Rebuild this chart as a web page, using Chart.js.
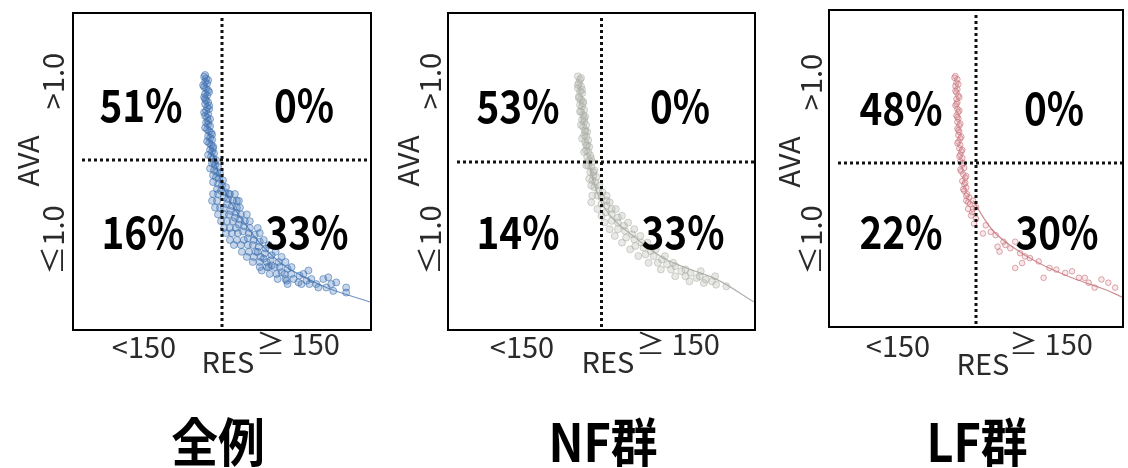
<!DOCTYPE html>
<html>
<head>
<meta charset="utf-8">
<script src="https://cdn.jsdelivr.net/npm/chart.js@4"></script>
<style>
  body { margin: 0; background: #fff; }
  #wrap { position: relative; width: 1128px; height: 468px; overflow: hidden; background: #fff; }
  canvas { position: absolute; top: 0; }
  .t { position: absolute; transform: translate(-50%, -50%); white-space: nowrap; color: #1a1a1a;
       font-family: "Noto Sans CJK JP", "Noto Sans", sans-serif; line-height: 1; }
  .pct { font-size: 45px; font-weight: 700; color: #000; transform: translate(-50%, -50%) scaleX(0.86); }
  .lab { font-size: 29px; font-weight: 400; color: #2a2a2a; }
  .rot { transform: translate(-50%, -50%) rotate(-90deg); }
  .ttl { font-size: 52px; font-weight: 700; color: #000; transform: translate(-50%, -50%) scaleX(0.9); }
</style>
</head>
<body>
<div id="wrap">
  <canvas id="c0" width="376" height="400" style="left:0px"></canvas>
  <canvas id="c1" width="384" height="400" style="left:376px"></canvas>
  <canvas id="c2" width="368" height="400" style="left:760px"></canvas>
</div>
<script>
// group names and quadrant shares (upper-left, upper-right, lower-left, lower-right)
const titles = ['全例', 'NF群', 'LF群'];
const pctLabels = [
    ['51%', '0%', '16%', '33%'],
    ['53%', '0%', '14%', '33%'],
    ['48%', '0%', '22%', '30%']
];
const xLabels = ['<150', '≥ 150'];
const yLabels = ['>1.0', '≤1.0'];
const resCut = 150;
const avaCut = 1.0;
const yMaxes = [1.865, 1.887, 1.933];

// RES, AVA pairs
const allPts = [
    [132,1.49],[134,1.48],[133,1.46],[135,1.45],[132,1.43],[134,1.42],[136,1.41],[133,1.39],[135,1.38],[132,1.37],
    [134,1.35],[136,1.34],[133,1.33],[135,1.31],[137,1.30],[134,1.29],[136,1.27],[133,1.26],[135,1.25],[138,1.24],
    [134,1.22],[136,1.21],[138,1.20],[135,1.18],[137,1.17],[139,1.16],[136,1.14],[138,1.13],[140,1.12],[137,1.10],
    [139,1.09],[141,1.08],[138,1.06],[140,1.05],[142,1.04],[139,1.02],[141,1.01],[144,1.00],[140,0.98],[143,0.97],
    [146,0.96],[142,0.94],[145,0.93],[148,0.92],[144,0.90],[147,0.89],[151,0.88],[146,0.86],[150,0.85],[154,0.84],
    [149,0.82],[153,0.81],[157,0.80],[152,0.78],[156,0.77],[161,0.76],[155,0.74],[160,0.73],[165,0.72],[159,0.70],
    [164,0.69],[169,0.68],[163,0.66],[168,0.65],[173,0.64],[167,0.62],[172,0.61],[178,0.60],[171,0.58],[177,0.57],
    [183,0.56],[176,0.54],[182,0.53],[188,0.52],[181,0.50],[187,0.49],[194,0.48],[186,0.46],[193,0.45],[200,0.44],
    [192,0.42],[199,0.41],[207,0.40],[200,0.38],[208,0.37],[216,0.36],[210,0.34],[220,0.33],[228,0.32],[222,0.30],
    [235,0.29],[245,0.27],[255,0.25],[262,0.23],[275,0.22],
    [190,0.35],[197,0.37],[215,0.29],[237,0.35],[257,0.31],[275,0.25],[247,0.25],[227,0.28],[265,0.28],
    [133,1.50],[136,1.47],[131,1.44],[137,1.40],[133,1.36],[137,1.32],[132,1.28],[136,1.23],[133,1.19],[140,1.15],
    [135,1.11],[141,1.07],[136,1.03],[142,0.99],[138,0.95],[141,0.91],[141,0.87],[145,0.83],
    [141,0.80],[146,0.80],[158,0.80],[163,0.80],[140,0.76],[145,0.76],[165,0.76],[167,0.76],
    [143,0.72],[148,0.72],[152,0.72],[168,0.72],[146,0.68],[152,0.68],[157,0.68],[175,0.68],
    [149,0.64],[155,0.64],[161,0.64],[178,0.64],[152,0.60],[158,0.60],[164,0.60],[186,0.60],
    [154,0.57],[160,0.57],[166,0.57],[188,0.57],[158,0.53],[165,0.53],[172,0.53],[192,0.53],
    [162,0.50],[169,0.50],[176,0.50],[197,0.50],[170,0.46],[177,0.46],[184,0.46],[204,0.46],
    [175,0.43],[182,0.43],[189,0.43],[210,0.43],[181,0.40],[188,0.40],[195,0.40],[214,0.40],
    [188,0.37],[195,0.37],[203,0.37],[220,0.37],[198,0.33],[205,0.33],[213,0.33],[232,0.33],
    [206,0.30],[214,0.30],[240,0.30],[252,0.30],[216,0.27],[230,0.27],[238,0.27],[260,0.27]
];
const nfPts = [
    [127,1.51],[129,1.49],[128,1.47],[130,1.45],[127,1.44],[129,1.42],[131,1.41],[128,1.39],[130,1.37],[132,1.36],
    [129,1.34],[131,1.33],[133,1.31],[130,1.30],[132,1.28],[134,1.27],[131,1.25],[133,1.24],[135,1.22],[132,1.21],
    [134,1.19],[136,1.18],[133,1.16],[135,1.15],[137,1.13],[134,1.12],[136,1.10],[138,1.09],[135,1.07],[137,1.06],
    [139,1.04],[136,1.03],[138,1.01],[141,1.00],[137,0.98],[140,0.97],[143,0.95],[139,0.94],[142,0.92],[145,0.91],
    [141,0.89],[144,0.88],[148,0.86],[143,0.85],[147,0.83],[151,0.82],[146,0.80],[150,0.79],[155,0.77],[150,0.75],
    [155,0.74],[160,0.72],[154,0.70],[160,0.69],[166,0.67],[160,0.65],[166,0.64],[172,0.62],[166,0.60],[173,0.59],
    [180,0.57],[174,0.55],[182,0.54],[189,0.52],[183,0.50],[191,0.49],[198,0.47],[193,0.45],[201,0.44],[209,0.42],
    [205,0.40],[214,0.39],[222,0.38],[218,0.36],[228,0.35],[237,0.34],[232,0.32],[243,0.31],[252,0.30],[250,0.28],
    [262,0.27],[272,0.26],[247,0.35],[261,0.32],
    [130,1.50],[127,1.46],[131,1.43],[128,1.38],[132,1.35],[129,1.30],[133,1.26],[130,1.22],[134,1.18],[131,1.14],
    [135,1.10],[133,1.06],[140,1.02],[135,0.98],[142,0.94],[138,0.90],[140,0.86],
    [141,0.80],[155,0.80],[140,0.76],[158,0.76],[146,0.72],[164,0.72],[150,0.68],[170,0.68],
    [153,0.64],[176,0.64],[158,0.60],[182,0.60],[163,0.56],[188,0.56],[170,0.52],[195,0.52],
    [178,0.48],[203,0.48],[186,0.44],[212,0.44],[196,0.40],[220,0.40],[208,0.36],[232,0.36],
    [222,0.32],[246,0.32],[236,0.29],[258,0.29]
];
const lfPts = [
    [129,1.53],[131,1.51],[130,1.49],[129,1.47],[131,1.45],[130,1.43],[132,1.41],[130,1.39],[131,1.37],[129,1.35],
    [131,1.33],[132,1.31],[130,1.29],[132,1.27],[131,1.25],[133,1.23],[131,1.21],[133,1.19],[132,1.17],[134,1.15],
    [132,1.13],[134,1.11],[133,1.09],[135,1.07],[134,1.05],[136,1.03],[134,1.01],[136,0.99],[138,0.97],[135,0.95],
    [137,0.93],[139,0.91],[136,0.89],[138,0.87],[140,0.85],[138,0.83],[141,0.81],[143,0.79],[140,0.77],[144,0.75],
    [147,0.77],[142,0.72],[146,0.70],[150,0.73],
    [157,0.57],[172,0.49],[174,0.46],[190,0.36],[197,0.39],[214,0.40],[219,0.30],[241,0.33],[248,0.34],[261,0.30],
    [271,0.24],[278,0.29],[285,0.27],[190,0.52],[180,0.50],
    [160,0.62],[165,0.58],[170,0.56],[178,0.52],[185,0.48],[195,0.45],[200,0.43],[205,0.42],[225,0.36],[232,0.35],
    [255,0.30],[265,0.27],[292,0.24],
    [128,1.52],[132,1.48],[129,1.44],[133,1.40],[130,1.36],[133,1.32],[131,1.28],[134,1.24],[132,1.20],[135,1.16],
    [131,1.12],[136,1.08],[133,1.04],[137,1.00],[134,0.96],[140,0.92],[139,0.88],[137,0.84],[140,0.80],[142,0.76],
    [147,0.72],[145,0.68],[150,0.66],[148,0.63]
];

// fitted curves
const allFit = [[140,1.05],[150,0.86],[160,0.74],[175,0.61],[190,0.50],[210,0.39],[230,0.32],[255,0.25],[280,0.20],[299,0.165]];
const nfFit = [[137,1.01],[147,0.80],[160,0.67],[183,0.55],[210,0.43],[237,0.36],[263,0.30],[299,0.167]];
const lfFit = [[147,0.77],[167,0.59],[187,0.49],[214,0.39],[248,0.30],[281,0.23],[300,0.18]];

const panels = [
    { id: 'c0', pts: allPts, fit: allFit, pad: { left: 73, top: 13, right: 3, bottom: 70 },
      dot: 'rgba(55,105,170,0.55)', fill: 'rgba(70,120,185,0.3)', line: '#7396c6', r: 3.5 },
    { id: 'c1', pts: nfPts, fit: nfFit, pad: { left: 72, top: 13, right: 2, bottom: 70 },
      dot: 'rgba(160,164,154,0.45)', fill: 'rgba(180,183,173,0.3)', line: '#b0b2ab', r: 3.5 },
    { id: 'c2', pts: lfPts, fit: lfFit, pad: { left: 69, top: 10, right: 0, bottom: 73 },
      dot: 'rgba(195,100,110,0.55)', fill: 'rgba(220,150,160,0.22)', line: '#cc9096', r: 2.8 }
];

const quadrants = {
    id: 'quadrants',
    afterDatasetsDraw(chart) {
        const { ctx, chartArea: a, scales } = chart;
        const xc = scales.x.getPixelForValue(resCut);
        const yc = scales.y.getPixelForValue(avaCut);
        ctx.save();
        ctx.strokeStyle = '#111';
        ctx.lineWidth = 3;
        ctx.setLineDash([3, 3]);
        ctx.beginPath();
        ctx.moveTo(xc, a.top + 5);
        ctx.lineTo(xc, a.bottom);
        ctx.moveTo(a.left + 9, yc);
        ctx.lineTo(a.right, yc);
        ctx.stroke();
        ctx.setLineDash([]);
        ctx.lineWidth = 2;
        ctx.strokeStyle = '#000';
        ctx.strokeRect(a.left, a.top, a.right - a.left, a.bottom - a.top);
        ctx.restore();
    }
};

panels.forEach(function(p, i) {
    const ctx = document.getElementById(p.id).getContext('2d');
    new Chart(ctx, {
        type: 'scatter',
        data: {
            datasets: [{
                data: p.pts.map(d => ({ x: d[0], y: d[1] })),
                borderColor: p.dot,
                backgroundColor: p.fill,
                borderWidth: 1,
                pointRadius: p.r
            }, {
                type: 'line',
                data: p.fit.map(d => ({ x: d[0], y: d[1] })),
                borderColor: p.line,
                borderWidth: 1.2,
                pointRadius: 0,
                tension: 0.4,
                fill: false
            }]
        },
        options: {
            responsive: false,
            animation: false,
            layout: { padding: p.pad },
            plugins: { legend: { display: false }, tooltip: { enabled: false } },
            scales: {
                x: { type: 'linear', min: 0, max: 300, display: false },
                y: { min: 0, max: yMaxes[i], display: false }
            }
        },
        plugins: [quadrants]
    });
});

// text placement (page pixels)
const wrap = document.getElementById('wrap');
function addText(txt, x, y, cls) {
    const d = document.createElement('div');
    d.className = 't ' + cls;
    d.textContent = txt;
    d.style.left = x + 'px';
    d.style.top = y + 'px';
    wrap.appendChild(d);
}
const pctPos = [
    [[141,102],[304,102],[143,229],[307,229]],
    [[518,103],[680,103],[518,229],[683,229]],
    [[901,105],[1054,105],[901,229],[1057,229]]
];
const labPos = [
    { ava: [26,161], yHi: [51,81], yLo: [51,240], xLo: [144,345], res: [228,360], xHi: [298,342] },
    { ava: [406,161], yHi: [428,81], yLo: [428,240], xLo: [522,345], res: [608,360], xHi: [678,342] },
    { ava: [787,162], yHi: [809,82], yLo: [809,240], xLo: [898,344], res: [983,362], xHi: [1051,342] }
];
const titlePos = [[218,440], [603,440], [977,440]];

pctLabels.forEach(function(row, i) {
    row.forEach(function(s, k) { addText(s, pctPos[i][k][0], pctPos[i][k][1], 'pct'); });
    const L = labPos[i];
    addText('AVA', L.ava[0], L.ava[1], 'lab rot');
    addText(yLabels[0], L.yHi[0], L.yHi[1], 'lab rot');
    addText(yLabels[1], L.yLo[0], L.yLo[1], 'lab rot');
    addText(xLabels[0], L.xLo[0], L.xLo[1], 'lab');
    addText('RES', L.res[0], L.res[1], 'lab');
    addText(xLabels[1], L.xHi[0], L.xHi[1], 'lab');
    addText(titles[i], titlePos[i][0], titlePos[i][1], 'ttl');
});
</script>
</body>
</html>
